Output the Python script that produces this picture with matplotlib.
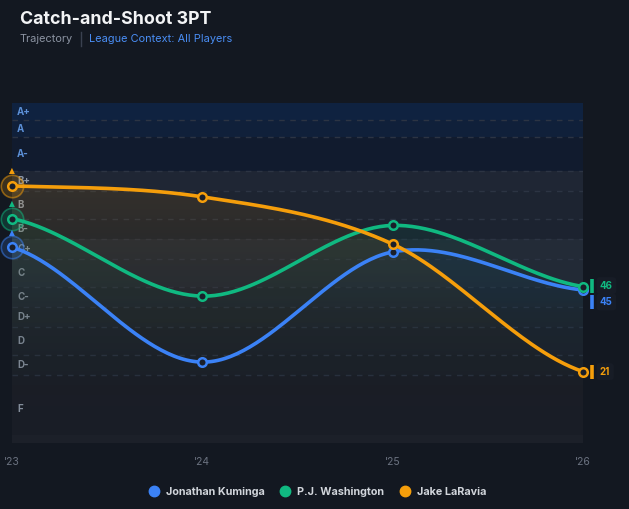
import numpy as np
import matplotlib
matplotlib.use("Agg")
import matplotlib.pyplot as plt
from matplotlib.lines import Line2D
from matplotlib.colors import LinearSegmentedColormap, to_rgba
from matplotlib.transforms import ScaledTranslation

plt.rcParams['font.family'] = ['Inter', 'DejaVu Sans']

# data (percentile)
seasons = [2023, 2024, 2025, 2026]
season_labels = ["'23", "'24", "'25", "'26"]
players = ["Jonathan Kuminga", "P.J. Washington", "Jake LaRavia"]
kuminga = [57.6, 23.8, 56.2, 45]
washington = [66, 43.2, 64, 46]
laravia = [75.6, 72.4, 58.5, 21]
colors = ["#3b82f6", "#10b981", "#f59e0b"]

grades = ["A+", "A", "A-", "B+", "B", "B-", "C+", "C", "C-", "D+", "D", "D-", "F"]
grade_lo = [95, 90, 80, 74, 66, 60, 54, 46, 40, 34, 26, 20, 0]
grade_hi = [100, 95, 90, 80, 74, 66, 60, 54, 46, 40, 34, 26, 20]

BG = "#131821"
W, H = 629, 509


def catmull(xs, ys, n=60):
    xs = np.asarray(xs, float)
    ys = np.asarray(ys, float)
    m = np.zeros_like(ys)
    m[1:-1] = (ys[2:] - ys[:-2]) / 2
    m[0] = (ys[1] - ys[0]) / 2
    m[-1] = (ys[-1] - ys[-2]) / 2
    ox, oy = [], []
    for i in range(len(xs) - 1):
        t = np.linspace(0, 1, n, endpoint=(i == len(xs) - 2))
        h00 = 2 * t**3 - 3 * t**2 + 1
        h10 = t**3 - 2 * t**2 + t
        h01 = -2 * t**3 + 3 * t**2
        h11 = t**3 - t**2
        ox.append(xs[i] + t * (xs[i + 1] - xs[i]))
        oy.append(h00 * ys[i] + h10 * m[i] + h01 * ys[i + 1] + h11 * m[i + 1])
    return np.concatenate(ox), np.concatenate(oy)


fig = plt.figure(figsize=(W / 100, H / 100), dpi=100, facecolor=BG)
ax = fig.add_axes([12 / W, (H - 443) / H, 571 / W, 340 / H])
ax.set_facecolor("#1c2029")
ax.set_xlim(2023, 2026)
ax.set_ylim(0, 100)

# grade bands
band_cols = {"A+": "#0f2240", "A": "#10203a", "A-": "#111b2e",
             "B+": "#1f2634", "B": "#1d2431", "B-": "#1c2330",
             "C+": "#232b37", "C": "#222a36", "C-": "#202733",
             "D+": "#1f252f", "D": "#1e232d", "D-": "#1d222b", "F": "#1c2029"}
for g, lo, hi in zip(grades, grade_lo, grade_hi):
    ax.axhspan(lo, hi, color=band_cols[g], lw=0, zorder=0)
    if lo > 0:
        ax.axhline(lo, color="#2c3443", lw=1, ls=(0, (4, 4)), zorder=1)
    tc = "#5b8fd6" if g.startswith("A") else "#8c96a5"
    ax.text(2023 + 5 / 571 * 3, (lo + hi) / 2, g, color=tc, fontsize=7,
            fontweight="bold", va="center", ha="left", zorder=2)

series = [kuminga, washington, laravia]
for vals, c in zip(series, colors):
    sx, sy = catmull(seasons, vals)
    poly = ax.fill_between(sx, sy, 0, facecolor="none", lw=0)
    cmap = LinearSegmentedColormap.from_list("g", [(0, (0, 0, 0, 0)), (1, to_rgba(c, 0.2))])
    grad = np.linspace(1, 0, 200).reshape(-1, 1)
    im = ax.imshow(grad, extent=[2023, 2026, 0, 100], aspect="auto", cmap=cmap, zorder=2, origin="upper")
    im.set_clip_path(poly.get_paths()[0], transform=ax.transData)

for vals, c in zip(series, colors):
    sx, sy = catmull(seasons, vals)
    ax.plot(sx, sy, color=c, lw=2.6, zorder=4, solid_capstyle="round")
    ax.scatter(seasons, vals, s=38, facecolor="#1a1f2a", edgecolor=c, lw=1.8, zorder=5, clip_on=False)
    # halo on first point
    ax.scatter([seasons[0]], [vals[0]], s=260, facecolor=to_rgba(c, 0.18),
               edgecolor=to_rgba(c, 0.5), lw=1.2, zorder=4, clip_on=False)
    ax.annotate("\u25B2", xy=(seasons[0], vals[0]), xytext=(0, 15), textcoords="offset pixels",
                ha="center", va="center", color=c, fontsize=5.5, family="DejaVu Sans",
                annotation_clip=False, zorder=6)

# end labels: colored tick bar + value box
label_shift = [-12, 1, 0]
for vals, c, dy in zip(series, colors, label_shift):
    v = vals[-1]
    tr = ax.transData + ScaledTranslation(9 / 100, dy / 100, fig.dpi_scale_trans)
    ax.plot([seasons[-1]], [v], marker="|", markersize=10.5, mew=2.6, color=c,
            transform=tr, clip_on=False, zorder=6)
    ax.annotate(str(int(v)), xy=(seasons[-1], v), xytext=(17, dy), textcoords="offset pixels",
                color=c, fontsize=7, fontweight="bold", ha="left", va="center",
                annotation_clip=False,
                bbox=dict(boxstyle="round,pad=0.35", fc="#171c26", ec="none"))

ax.set_xticks(seasons)
ax.set_xticklabels(season_labels)
ax.set_yticks([])
ax.tick_params(axis="x", length=0, pad=10, colors="#6b7280", labelsize=7.5)
for s in ax.spines.values():
    s.set_visible(False)

# titles
fig.text(20 / W, 1 - 20 / H, "Catch-and-Shoot 3PT", color="#f3f4f6", fontsize=12.8,
         fontweight="bold", va="center", ha="left")
fig.text(20 / W, 1 - 39 / H, "Trajectory", color="#8b93a1", fontsize=7.9, va="center", ha="left")
fig.add_artist(Line2D([81 / W, 81 / W], [1 - 32 / H, 1 - 46 / H], color="#3a4150", lw=1))
fig.text(89 / W, 1 - 39 / H, "League Context: All Players", color="#4a8ef5", fontsize=7.9,
         va="center", ha="left")

handles = [Line2D([], [], marker="o", ls="", color=c, markersize=7.5) for c in colors]
leg = fig.legend(handles, players, loc="center", bbox_to_anchor=(0.5, 1 - 492 / H), ncol=3,
                 frameon=False, handletextpad=0.1, columnspacing=0.9,
                 prop=dict(size=7.8, weight="bold"))
for t in leg.get_texts():
    t.set_color("#d1d5db")

fig.savefig("out.png", dpi=100, facecolor=BG)
